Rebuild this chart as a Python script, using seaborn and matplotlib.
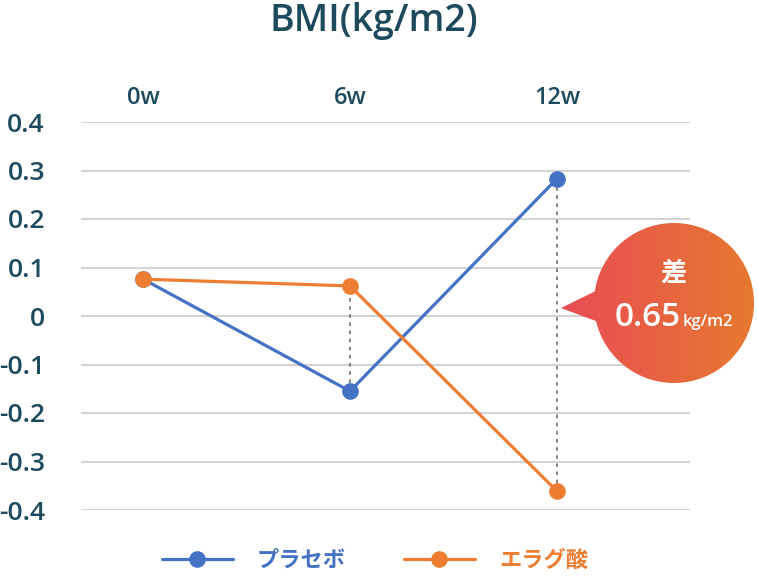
import numpy as np
import pandas as pd
import matplotlib
matplotlib.use('Agg')
import matplotlib.pyplot as plt
from matplotlib.patches import Circle, Polygon
from matplotlib.colors import LinearSegmentedColormap
import seaborn as sns

# chart data
weeks = [0, 6, 12]
week_labels = ['0w', '6w', '12w']
placebo = [0.076, -0.155, 0.283]
ellagic = [0.076, 0.062, -0.361]
group_names = ['プラセボ', 'エラグ酸']
y_ticks = [0.4, 0.3, 0.2, 0.1, 0, -0.1, -0.2, -0.3, -0.4]
y_tick_labels = ['0.4', '0.3', '0.2', '0.1', '0', '-0.1', '-0.2', '-0.3', '-0.4']
diff_label = '0.65'

sns.set_theme(style='white')
plt.rcParams['font.family'] = ['Open Sans', 'Noto Sans CJK JP', 'DejaVu Sans']

text_color = '#1d4a5c'
colors = {'プラセボ': '#4472c4', 'エラグ酸': '#ed7d31'}

df = pd.DataFrame({
    'week': weeks * 2,
    'value': placebo + ellagic,
    'group': [group_names[0]] * 3 + [group_names[1]] * 3,
})

fig = plt.figure(figsize=(7.58, 5.76), dpi=100)
ax = fig.add_axes([81 / 758, 1 - 510 / 576, (690 - 81) / 758, (510 - 122) / 576])

# gridlines
for t in y_ticks:
    ax.axhline(t, color='#d4d4d4', lw=1.5, zorder=0)

# dotted connectors between the two groups
for w in weeks[1:]:
    i = weeks.index(w)
    ax.plot([w, w], [placebo[i], ellagic[i]], color='#777777', lw=1.3,
            ls=(0, (2, 2.5)), zorder=1)

sns.lineplot(data=df, x='week', y='value', hue='group', palette=colors,
             marker='o', markersize=12, markeredgewidth=0, linewidth=2.3,
             ax=ax, legend=False, zorder=3)

ax.set_xlim(-1.8, 15.86)
ax.set_ylim(-0.4, 0.4)
ax.set_xlabel('')
ax.set_ylabel('')
ax.set_xticks(weeks)
ax.set_xticklabels(week_labels, fontweight='semibold')
ax.xaxis.tick_top()
ax.set_yticks(y_ticks)
ax.set_yticklabels(y_tick_labels, fontweight='semibold')
ax.tick_params(axis='x', length=0, pad=9, labelsize=17, labelcolor=text_color)
ax.tick_params(axis='y', length=0, pad=26, labelsize=19, labelcolor=text_color)
for s in ax.spines.values():
    s.set_visible(False)

fig.text(374 / 758, 1 - 21 / 576, 'BMI(kg/m2)', ha='center', va='center',
         fontsize=27, fontweight='semibold', color=text_color)

# legend
handles = [plt.Line2D([], [], color=colors[g], marker='o', markersize=12,
                      markeredgewidth=0, lw=2.3) for g in group_names]
leg = fig.legend(handles, group_names, loc='center', bbox_to_anchor=(375 / 758, 1 - 561 / 576),
                 ncol=2, frameon=False, fontsize=16, handlelength=3.2,
                 columnspacing=2.6, handletextpad=1.1, labelcolor='linecolor')
for t in leg.get_texts():
    t.set_fontweight('bold')

# speech bubble with gradient
over = fig.add_axes([0, 0, 1, 1])
over.set_xlim(0, 758)
over.set_ylim(576, 0)
over.axis('off')
over.patch.set_alpha(0)
cmap = LinearSegmentedColormap.from_list('bub', ['#e84b56', '#e6792f'])
grad = np.linspace(0, 1, 256).reshape(1, -1)
cx, cy, r = 674, 303, 80
extent = [555, cx + r, cy + r, cy - r]
circle = Circle((cx, cy), r, transform=over.transData, facecolor='none', edgecolor='none')
tail = Polygon([(561, 308), (612, 283), (612, 327)], closed=True,
               transform=over.transData, facecolor='none', edgecolor='none')
over.add_patch(circle)
over.add_patch(tail)
for clip in (circle, tail):
    im = over.imshow(grad, cmap=cmap, extent=extent, aspect='auto', zorder=5)
    im.set_clip_path(clip)

over.text(cx, 273, '差', ha='center', va='center', fontsize=19,
          fontweight='bold', color='white', zorder=6)
over.text(681, 317, diff_label, ha='right', va='center', fontsize=24,
          fontweight='semibold', color='white', zorder=6)
over.text(683, 322, 'kg/m2', ha='left', va='center', fontsize=12,
          fontweight='semibold', color='white', zorder=6)

fig.savefig('out.png', dpi=100, facecolor='white')
